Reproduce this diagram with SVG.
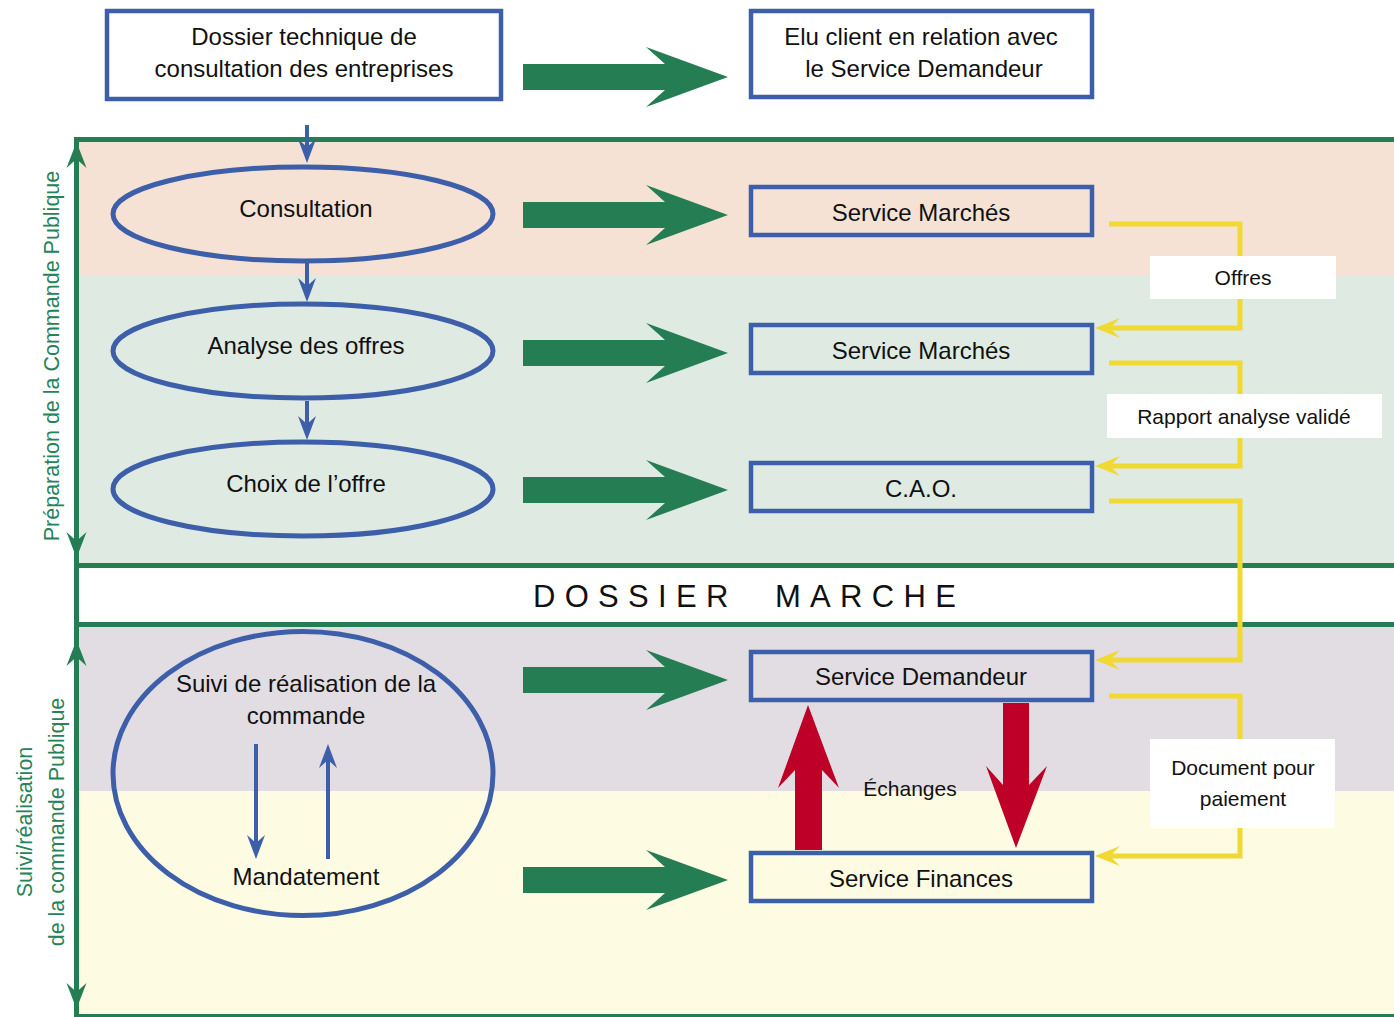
<svg xmlns="http://www.w3.org/2000/svg" width="1394" height="1017" viewBox="0 0 1394 1017">
<style>
.t{font-family:"Liberation Sans",Arial,Helvetica,sans-serif;font-size:24px;fill:#111;text-anchor:middle}
.s{font-size:21px}
.v{fill:#24835a;font-size:21.5px}
.dm{font-size:31px;letter-spacing:9.3px;text-anchor:start}
.box{fill:none;stroke:#3d5fa9;stroke-width:4.5}
.ell{fill:none;stroke:#3d5fa9;stroke-width:5}
.frame{stroke:#247d53;stroke-width:5;fill:none}
.blue{stroke:#3d5fa9;stroke-width:4;fill:none}
.yel{stroke:#efd932;stroke-width:5;fill:none}
.lbl{fill:#fff}
.garrow{fill:#247d53}
.red{fill:#be0028}
</style>
<defs>
<path id="bigArrow" d="M0,-13 L142,-13 L123,-30 L205,0 L123,30 L142,13 L0,13 Z"/>
<path id="gHead" d="M0,0 L10,26 L0,17 L-10,26 Z"/>
<marker id="mBlue" markerUnits="userSpaceOnUse" viewBox="-26 -11 28 22" markerWidth="28" markerHeight="22" refX="-16" refY="0" orient="auto">
<path d="M0,0 L-24,-9 L-16,0 L-24,9 Z" fill="#3d5fa9"/>
</marker>
<marker id="mYel" markerUnits="userSpaceOnUse" viewBox="-28 -12 30 24" markerWidth="30" markerHeight="24" refX="-15" refY="0" orient="auto">
<path d="M0,0 L-25,-10 L-15,0 L-25,10 Z" fill="#efd932"/>
</marker>
</defs>

<g id="bands">
<rect x="79" y="142" width="1315" height="133" fill="#f5e2d5"/>
<rect x="79" y="275" width="1315" height="289" fill="#dfeae3"/>
<rect x="79" y="568" width="1315" height="54" fill="#fff"/>
<rect x="79" y="627" width="1315" height="164" fill="#e2dde3"/>
<rect x="79" y="791" width="1315" height="226" fill="#fefbe3"/>
</g>

<g id="frame">
<line class="frame" x1="74" y1="139.5" x2="1394" y2="139.5"/>
<line class="frame" x1="74" y1="565.5" x2="1394" y2="565.5"/>
<line class="frame" x1="74" y1="624.5" x2="1394" y2="624.5"/>
<line class="frame" x1="74" y1="1015.5" x2="1394" y2="1015.5" style="stroke-width:3"/>
<line class="frame" x1="76.5" y1="137" x2="76.5" y2="1017"/>
<use href="#gHead" x="76.5" y="142" class="garrow"/>
<use href="#gHead" transform="translate(76.5,558) rotate(180)" class="garrow"/>
<use href="#gHead" x="76.5" y="640" class="garrow"/>
<use href="#gHead" transform="translate(76.5,1009) rotate(180)" class="garrow"/>
<text class="t v" transform="translate(59,356) rotate(-90)">Préparation de la Commande Publique</text>
<text class="t v" transform="translate(32,822) rotate(-90)">Suivi/réalisation</text>
<text class="t v" transform="translate(64,822) rotate(-90)">de la commande Publique</text>
<text class="t dm" x="533" y="607">DOSSIER</text>
<text class="t dm" x="775" y="607">MARCHE</text>
</g>

<g id="connectors">
<use href="#bigArrow" x="523" y="77" class="garrow"/>
<use href="#bigArrow" x="523" y="215" class="garrow"/>
<use href="#bigArrow" x="523" y="353" class="garrow"/>
<use href="#bigArrow" x="523" y="490" class="garrow"/>
<use href="#bigArrow" x="523" y="680" class="garrow"/>
<use href="#bigArrow" x="523" y="880" class="garrow"/>
<line class="blue" x1="307" y1="125" x2="307" y2="147" marker-end="url(#mBlue)"/>
<line class="blue" x1="307" y1="263" x2="307" y2="286" marker-end="url(#mBlue)"/>
<line class="blue" x1="307" y1="401" x2="307" y2="424" marker-end="url(#mBlue)"/>
<line class="blue" x1="256" y1="744" x2="256" y2="843" marker-end="url(#mBlue)"/>
<line class="blue" x1="328" y1="859" x2="328" y2="760" marker-end="url(#mBlue)"/>
<polyline class="yel" points="1109,224 1240,224 1240,328 1110,328" marker-end="url(#mYel)"/>
<polyline class="yel" points="1109,363 1240,363 1240,466 1110,466" marker-end="url(#mYel)"/>
<polyline class="yel" points="1109,501 1240,501 1240,660 1110,660" marker-end="url(#mYel)"/>
<polyline class="yel" points="1109,696 1240,696 1240,856 1110,856" marker-end="url(#mYel)"/>
<rect class="lbl" x="1150" y="256" width="186" height="43"/>
<text class="t s" x="1243" y="285">Offres</text>
<rect class="lbl" x="1107" y="394" width="275" height="44"/>
<text class="t s" x="1244" y="424">Rapport analyse validé</text>
<rect class="lbl" x="1150" y="739" width="185" height="89"/>
<text class="t s" x="1243" y="775">Document pour</text>
<text class="t s" x="1243" y="806">paiement</text>
<path class="red" d="M808,705 L839,788 L822,770 L822,850 L795,850 L795,770 L778,788 Z"/>
<path class="red" d="M1003,703 L1029,703 L1029,785 L1047,766 L1016,848 L986,766 L1003,785 Z"/>
<text class="t s" x="910" y="796">Échanges</text>
</g>

<g id="n-dossier">
<rect class="box" x="107" y="11" width="394" height="88"/>
<text class="t" x="304" y="45">Dossier technique de</text>
<text class="t" x="304" y="77">consultation des entreprises</text>
</g>
<g id="n-elu">
<rect class="box" x="751" y="11" width="341" height="86"/>
<text class="t" x="921" y="45">Elu client en relation avec</text>
<text class="t" x="924" y="77">le Service Demandeur</text>
</g>
<g id="n-consultation">
<ellipse class="ell" cx="303" cy="214" rx="190" ry="47"/>
<text class="t" x="306" y="217">Consultation</text>
</g>
<g id="n-analyse">
<ellipse class="ell" cx="303" cy="351" rx="190" ry="47"/>
<text class="t" x="306" y="354">Analyse des offres</text>
</g>
<g id="n-choix">
<ellipse class="ell" cx="303" cy="489" rx="190" ry="47"/>
<text class="t" x="306" y="492">Choix de l’offre</text>
</g>
<g id="n-suivi">
<ellipse class="ell" cx="303" cy="773.5" rx="190" ry="142"/>
<text class="t" x="306" y="692">Suivi de réalisation de la</text>
<text class="t" x="306" y="724">commande</text>
<text class="t" x="306" y="885">Mandatement</text>
</g>
<g id="n-marches1">
<rect class="box" x="751" y="187" width="341" height="48"/>
<text class="t" x="921" y="221">Service Marchés</text>
</g>
<g id="n-marches2">
<rect class="box" x="751" y="325" width="341" height="48"/>
<text class="t" x="921" y="359">Service Marchés</text>
</g>
<g id="n-cao">
<rect class="box" x="751" y="463" width="341" height="48"/>
<text class="t" x="921" y="497">C.A.O.</text>
</g>
<g id="n-demandeur">
<rect class="box" x="751" y="652" width="341" height="48"/>
<text class="t" x="921" y="685">Service Demandeur</text>
</g>
<g id="n-finances">
<rect class="box" x="751" y="853" width="341" height="48"/>
<text class="t" x="921" y="887">Service Finances</text>
</g>
</svg>
